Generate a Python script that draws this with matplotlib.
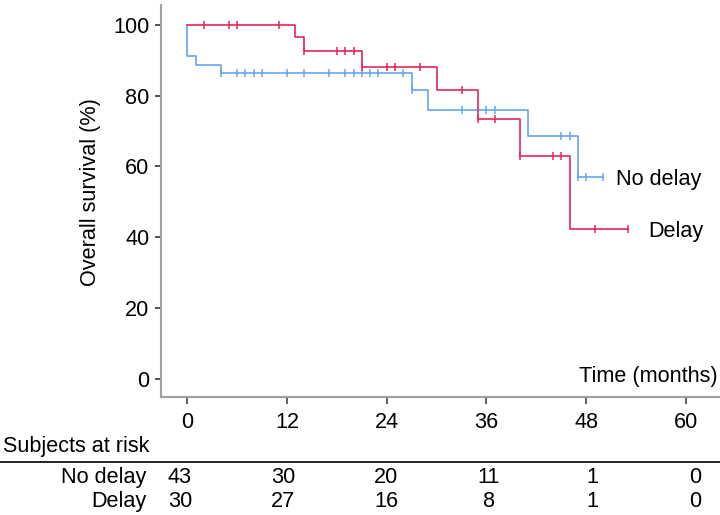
import numpy as np
import matplotlib
matplotlib.use("Agg")
import matplotlib.pyplot as plt

plt.rcParams['font.family'] = ['Liberation Sans', 'DejaVu Sans']

# Data
nd_event_t = [0, 1, 4, 27, 29, 41, 47]
nd_surv = [91.2, 88.6, 86.5, 81.5, 76.0, 68.5, 57.1]
nd_end = 50
nd_cens_t = [4, 6, 7, 8, 9, 12, 14, 17, 19, 20, 21, 22, 23, 26, 27,
             33, 36, 37, 45, 46, 47, 48, 50]

d_event_t = [13, 14, 21, 30, 35, 40, 46]
d_surv = [96.6, 92.7, 88.0, 81.7, 73.4, 63.1, 42.3]
d_end = 53
d_cens_t = [2, 5, 6, 11, 14, 18, 19, 20, 21, 24, 25, 28, 33, 35, 37,
            40, 44, 45, 49, 53]

risk_times = [0, 12, 24, 36, 48, 60]
risk_no_delay = [43, 30, 20, 11, 1, 0]
risk_delay = [30, 27, 16, 8, 1, 0]

blue = '#64a5ea'
red = '#e2275c'
fs = 15.6

W, H = 720, 515
fig = plt.figure(figsize=(W / 100, H / 100), dpi=100)
ax = fig.add_axes([160.7 / W, 1 - 396.7 / H, 1 - 160.7 / W, (396.7 - 5) / H])


def surv_at(t, ev_t, ev_s):
    i = np.searchsorted(ev_t, t, side='right')
    return 100.0 if i == 0 else ev_s[i - 1]


def draw_km(ev_t, ev_s, end, cens, color):
    x = [0] + list(ev_t) + [end]
    y = [100] + list(ev_s) + [ev_s[-1]]
    ax.plot(x, y, drawstyle='steps-post', color=color, lw=1.2)
    cy = [surv_at(t, ev_t, ev_s) for t in cens]
    ax.plot(cens, cy, ls='none', marker='|', ms=6, mew=1.1, color=color)


draw_km(nd_event_t, nd_surv, nd_end, nd_cens_t, blue)
draw_km(d_event_t, d_surv, d_end, d_cens_t, red)

ax.text(51.6, nd_surv[-1], 'No delay', fontsize=fs, va='center_baseline', ha='left')
ax.text(55.5, d_surv[-1], 'Delay', fontsize=fs, va='center_baseline', ha='left')

ax.set_xlim(-3.2, 64.1)
ax.set_ylim(-5.0, 105.6)
ax.set_xticks(risk_times)
ax.set_yticks([0, 20, 40, 60, 80, 100])
ax.tick_params(axis='x', direction='out', length=5, width=1.1, color='#333333',
               pad=6, labelsize=fs)
ax.tick_params(axis='y', direction='out', length=4, width=1.1, color='#222222',
               pad=4, labelsize=fs)
for s in ['top', 'right']:
    ax.spines[s].set_visible(False)
for s in ['left', 'bottom']:
    ax.spines[s].set_color('#a0a0a0')
    ax.spines[s].set_linewidth(1.5)

ax.set_ylabel('Overall survival (%)', fontsize=fs)
ax.yaxis.set_label_coords(-0.106, 0.523)

fig.text(718 / W, 1 - 381.7 / H, 'Time (months)', fontsize=fs, ha='right', va='baseline')

# Risk table
fig.text(2.7 / W, 1 - 451.7 / H, 'Subjects at risk', fontsize=fs, ha='left', va='baseline')
fig.add_artist(plt.Line2D([0, 1], [1 - 461.7 / H] * 2, color='black', lw=1.2,
                          transform=fig.transFigure))
rows = [('No delay', risk_no_delay, 483.3), ('Delay', risk_delay, 507.3)]
tx0, tdx = 180.0, 103.0 / 12
for name, vals, yb in rows:
    fig.text(146.7 / W, 1 - yb / H, name, fontsize=fs, ha='right', va='baseline')
    for t, v in zip(risk_times, vals):
        fig.text((tx0 + t * tdx) / W, 1 - yb / H, str(v), fontsize=fs,
                 ha='center', va='baseline')

fig.savefig('out.png', dpi=100)
